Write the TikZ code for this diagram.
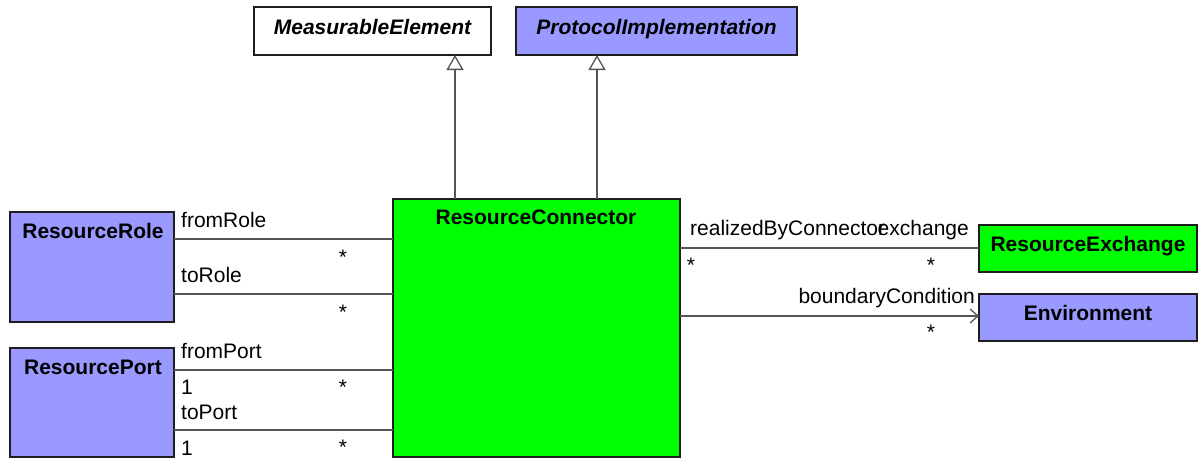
\documentclass[tikz,border=0pt]{standalone}
\usepackage{fontspec}
\setmainfont{Liberation Sans}
\usetikzlibrary{arrows.meta}
\definecolor{umlblue}{RGB}{153,153,255}
\definecolor{umlgreen}{RGB}{0,255,0}
\definecolor{edgegray}{RGB}{85,85,85}
\definecolor{boxline}{RGB}{30,30,30}
\begin{document}
\begin{tikzpicture}[x=1pt,y=-1pt,
  cls/.style={draw=boxline, line width=1.6pt, anchor=north west, inner sep=0pt, outer sep=0pt},
  ttl/.style={anchor=base, font=\fontsize{21}{25}\selectfont\bfseries, inner sep=0pt},
  lbl/.style={font=\fontsize{21}{25}\selectfont, inner sep=0pt},
  assoc/.style={draw=edgegray, line width=1.3pt},
  gen/.style={assoc, -{Triangle[open, length=15pt, width=17pt, fill=white]}},
  nav/.style={assoc, -{Straight Barb[length=8pt, width=14pt, line width=1.3pt]}}
]
\useasboundingbox (0,0) rectangle (1200,459);

% classes
\node[cls, fill=white, minimum width=237pt, minimum height=48pt] (me) at (254,7) {};
\node[cls, fill=umlblue, minimum width=281pt, minimum height=48pt] (pi) at (516,7) {};
\node[cls, fill=umlgreen, minimum width=287pt, minimum height=258pt] (rc) at (393,199) {};
\node[cls, fill=umlblue, minimum width=164pt, minimum height=110pt] (rr) at (10,212) {};
\node[cls, fill=umlblue, minimum width=164pt, minimum height=109pt] (rp) at (10,348) {};
\node[cls, fill=umlgreen, minimum width=218pt, minimum height=47pt] (rex) at (979,225) {};
\node[cls, fill=umlblue, minimum width=218pt, minimum height=47pt] (env) at (979,294) {};

% class names
\node[ttl, font=\fontsize{21}{25}\selectfont\bfseries\itshape] (metxt) at (372.5,34) {MeasurableElement};
\node[ttl, font=\fontsize{21}{25}\selectfont\bfseries\itshape] (pitxt) at (656.5,34) {ProtocolImplementation};
\node[ttl] (rctxt) at (536,224) {ResourceConnector};
\node[ttl] (rrtxt) at (93,238) {ResourceRole};
\node[ttl] (rptxt) at (93,374) {ResourcePort};
\node[ttl] (rextxt) at (1088,251) {ResourceExchange};
\node[ttl] (envtxt) at (1088,320) {Environment};

% generalizations
\coordinate (g1) at (455,0);
\coordinate (g2) at (597,0);
\draw[gen] (g1 |- rc.north) -- (g1 |- me.south);
\draw[gen] (g2 |- rc.north) -- (g2 |- pi.south);

% associations left
\coordinate (y1) at (0,239);
\coordinate (y2) at (0,294);
\coordinate (y3) at (0,370);
\coordinate (y4) at (0,430);
\draw[assoc] (rr.east |- y1) -- (rc.west |- y1);
\draw[assoc] (rr.east |- y2) -- (rc.west |- y2);
\draw[assoc] (rp.east |- y3) -- (rc.west |- y3);
\draw[assoc] (rp.east |- y4) -- (rc.west |- y4);

\node[lbl, anchor=base west] (l1) at (181,227) {fromRole};
\node[lbl, anchor=base] (s1) at (343,264) {*};
\node[lbl, anchor=base west] (l2) at (181,282) {toRole};
\node[lbl, anchor=base] (s2) at (343,319) {*};
\node[lbl, anchor=base west] (l3) at (181,358) {fromPort};
\node[lbl, anchor=base west] (o3) at (181,394) {1};
\node[lbl, anchor=base] (s3) at (343,394) {*};
\node[lbl, anchor=base west] (l4) at (181,419) {toPort};
\node[lbl, anchor=base west] (o4) at (181,455) {1};
\node[lbl, anchor=base] (s4) at (343,454) {*};

% associations right
\coordinate (y5) at (0,248);
\coordinate (y6) at (0,316);
\draw[assoc] (rc.east |- y5) -- (rex.west |- y5);
\draw[nav] (rc.east |- y6) -- (env.west |- y6);

\node[lbl, anchor=base west] (r1) at (690,235) {realizedByConnector};
\node[lbl, anchor=base east] (r2) at (969,235) {exchange};
\node[lbl, anchor=base] (s5) at (691,272) {*};
\node[lbl, anchor=base] (s6) at (931,272) {*};
\node[lbl, anchor=base east] (r3) at (975,303) {boundaryCondition};
\node[lbl, anchor=base] (s7) at (931,339) {*};
\end{tikzpicture}
\end{document}
